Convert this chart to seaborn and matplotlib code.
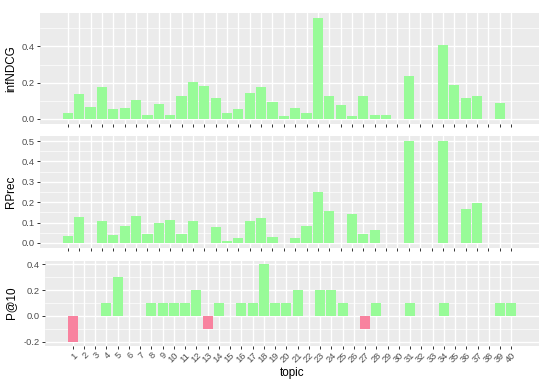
import matplotlib
matplotlib.use("Agg")
import matplotlib.pyplot as plt
import seaborn as sns
import pandas as pd
import numpy as np

topics = list(range(1, 41))
infndcg = [0.031, 0.136, 0.064, 0.177, 0.053, 0.063, 0.105, 0.022, 0.083, 0.022,
           0.127, 0.203, 0.184, 0.113, 0.031, 0.054, 0.143, 0.175, 0.095, 0.019,
           0.063, 0.034, 0.556, 0.128, 0.076, 0.018, 0.124, 0.024, 0.022, 0.0,
           0.239, 0.0, 0.0, 0.409, 0.188, 0.116, 0.129, 0.0, 0.090, 0.0]
rprec = [0.033, 0.125, 0.0, 0.110, 0.038, 0.082, 0.134, 0.043, 0.098, 0.113,
         0.043, 0.110, 0.0, 0.076, 0.009, 0.022, 0.109, 0.120, 0.027, 0.0,
         0.025, 0.083, 0.248, 0.155, 0.0, 0.141, 0.044, 0.062, 0.0, 0.0,
         0.500, 0.0, 0.0, 0.500, 0.0, 0.166, 0.197, 0.0, 0.0, 0.0]
p10 = [-0.2, 0.0, 0.0, 0.1, 0.3, 0.0, 0.0, 0.1, 0.1, 0.1,
       0.1, 0.2, -0.1, 0.1, 0.0, 0.1, 0.1, 0.4, 0.1, 0.1,
       0.2, 0.0, 0.2, 0.2, 0.1, 0.0, -0.1, 0.1, 0.0, 0.0,
       0.1, 0.0, 0.0, 0.1, 0.0, 0.0, 0.0, 0.0, 0.1, 0.1]

metric_names = ["infNDCG", "RPrec", "P@10"]
ytick_vals = [[0.0, 0.2, 0.4], [0.0, 0.1, 0.2, 0.3, 0.4, 0.5], [-0.2, 0.0, 0.2, 0.4]]
ytick_labels = [["0.0", "0.2", "0.4"],
                ["0.0", "0.1", "0.2", "0.3", "0.4", "0.5"],
                ["-0.2", "0.0", "0.2", "0.4"]]
yminor_vals = [[0.1, 0.3, 0.5], [0.05, 0.15, 0.25, 0.35, 0.45], [-0.1, 0.1, 0.3]]

GREEN = "#98FB98"
PINK = "#F8829F"

sns.set_theme(style="darkgrid")
plt.rcParams["font.family"] = ["Liberation Sans", "DejaVu Sans"]

W, H = 550, 379
fig = plt.figure(figsize=(W / 100, H / 100), dpi=100)

# panel boxes in pixels: left, right, top, bottom
boxes = [(40, 539, 13, 124), (40, 539, 136, 248), (45, 539, 260.5, 345.5)]
ylims = [(-0.0278, 0.584), (-0.025, 0.525), (-0.23, 0.43)]
series = [infndcg, rprec, p10]

for i, (vals, name) in enumerate(zip(series, metric_names)):
    l, r, t, b = boxes[i]
    ax = fig.add_axes([l / W, 1 - b / H, (r - l) / W, (b - t) / H])
    df = pd.DataFrame({"topic": topics, "value": vals})
    df["sign"] = np.where(df["value"] < 0, "neg", "pos")
    sns.barplot(data=df, x="topic", y="value", hue="sign",
                palette={"pos": GREEN, "neg": PINK}, dodge=False,
                native_scale=True, width=0.9, saturation=1, errorbar=None,
                legend=False, linewidth=0, ax=ax, zorder=3)
    ax.set_facecolor("#EBEBEB")
    for s in ax.spines.values():
        s.set_visible(False)
    ax.set_xlim(-1.45, 42.45)
    ax.set_ylim(*ylims[i])
    ax.set_xticks(topics)
    ax.set_yticks(ytick_vals[i])
    ax.set_yticklabels(ytick_labels[i])
    ax.set_yticks(yminor_vals[i], minor=True)
    ax.grid(which="major", color="white", linewidth=1.0, zorder=0)
    ax.grid(which="minor", axis="y", color="white", linewidth=0.5, zorder=0)
    ax.set_axisbelow(True)
    ax.tick_params(axis="both", which="major", bottom=True, left=True,
                   length=2.4, width=0.7, direction="out",
                   color="#333333", labelsize=6.7, labelcolor="#4D4D4D", pad=1.5)
    ax.tick_params(axis="both", which="minor", length=0, bottom=False, left=False)
    if i < 2:
        ax.set_xticklabels([""] * len(topics))
        ax.set_xlabel("")
    else:
        ax.set_xticklabels([str(t) for t in topics], rotation=45,
                           ha="right", va="top", rotation_mode="anchor")
        ax.set_xlabel("topic", fontsize=8.4, color="black", labelpad=2)
    ax.set_ylabel(name, fontsize=8.4, color="black")
    ax.yaxis.set_label_coords((17 - l) / (r - l), 0.5)

fig.savefig("out.png", dpi=100)
